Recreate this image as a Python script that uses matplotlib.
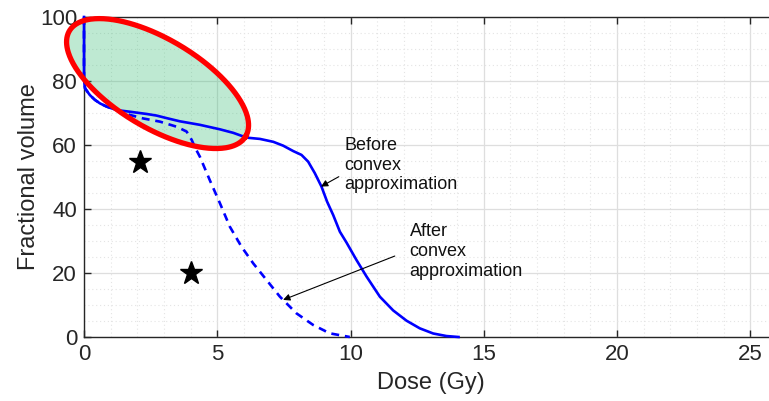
import numpy as np
import matplotlib
matplotlib.use("Agg")
import matplotlib.pyplot as plt
from matplotlib.ticker import MultipleLocator

plt.rcParams['font.family'] = ['Liberation Sans', 'DejaVu Sans']

# ---- data ----
dose_before = [0, 0, 0.04, 0.22, 0.41, 0.6, 0.85, 1.23, 1.72, 2.35, 2.72, 3.1, 3.6, 4.35,
               5.1, 5.6, 6.1, 6.6, 7.1, 7.47, 7.85, 8.16, 8.41, 8.66, 8.91, 9.12, 9.35,
               9.6, 9.85, 10.22, 10.6, 11.1, 11.6, 12.1, 12.6, 13.1, 13.6, 14.05]
vol_before = [100, 80.3, 77.7, 75.6, 74.1, 73, 72, 70.9, 70.4, 69.7, 69.2, 68.4, 67.4,
              66.3, 64.9, 63.8, 62.3, 61.9, 61.0, 59.8, 58.1, 56.9, 54.8, 51.2, 47.0,
              42.3, 38.1, 32.9, 29.5, 24.1, 18.9, 12.6, 8.3, 5.1, 2.7, 1.1, 0.3, 0]

dose_after = [0, 0, 0.04, 0.22, 0.41, 0.6, 0.85, 1.23, 1.72, 2.22, 2.85, 3.48, 3.85,
              4.04, 4.16, 4.35, 4.72, 5.1, 5.47, 5.91, 6.35, 6.85, 7.35, 7.97, 8.6,
              9.22, 9.97]
vol_after = [100, 80.3, 77.7, 75.6, 74.1, 73, 72, 70.9, 69.4, 68.3, 67.3, 65.7, 64.2,
             61.6, 59.3, 56.3, 49, 41.8, 34.5, 28.2, 23, 17.8, 12.6, 7.4, 3.75, 1.15, 0]

star_dose = [2.1, 4.0]
star_vol = [54.7, 20]

x_ticks = [0, 5, 10, 15, 20, 25]
y_ticks = [0, 20, 40, 60, 80, 100]

before_text = 'Before\nconvex\napproximation'
after_text = 'After\nconvex\napproximation'

# ellipse (center in data units, semi-axes in pixels, tilt in degrees)
ell_cx, ell_cy = 2.76, 79.2
ell_a_px, ell_b_px, ell_tilt = 102.7, 44.2, 30.9

# ---- figure ----
W, H = 769, 401
fig = plt.figure(figsize=(W / 100, H / 100), dpi=100)
left_px, right_px, top_px, bot_px = 84, 777, 17, 337
ax = fig.add_axes([left_px / W, (H - bot_px) / H, (right_px - left_px) / W,
                   (bot_px - top_px) / H])
ax.set_xlim(0, 26)
ax.set_ylim(0, 100)
ax.set_xticks(x_ticks)
ax.set_yticks(y_ticks)
ax.xaxis.set_minor_locator(MultipleLocator(1))
ax.yaxis.set_minor_locator(MultipleLocator(5))
ax.grid(True, which='major', color='#dedede', lw=0.9, zorder=0)
ax.grid(True, which='minor', color='#e4e4e4', lw=0.8, ls=(0, (1, 2.5)), zorder=0)
ax.set_axisbelow(True)
ax.tick_params(which='major', direction='in', length=5, width=1.0, top=True,
               right=True, labelsize=16, colors='#262626', pad=5)
ax.tick_params(which='minor', length=0)
for s in ax.spines.values():
    s.set_color('#262626')
    s.set_linewidth(1.0)
ax.set_xlabel('Dose (Gy)', fontsize=17, color='#262626', labelpad=5)
ax.set_ylabel('Fractional volume', fontsize=17, color='#262626', labelpad=0)

# ellipse: parametric in pixel space converted to data units
sx = (right_px - left_px) / 26.0
sy = (bot_px - top_px) / 100.0
t = np.linspace(0, 2 * np.pi, 400)
th = np.deg2rad(ell_tilt)
px = ell_a_px * np.cos(t) * np.cos(th) - ell_b_px * np.sin(t) * np.sin(th)
py = ell_a_px * np.cos(t) * np.sin(th) + ell_b_px * np.sin(t) * np.cos(th)
ex = ell_cx + px / sx
ey = ell_cy - py / sy
ax.fill(ex, ey, color=(41 / 255, 185 / 255, 108 / 255), alpha=0.3, lw=0,
        zorder=1.5, clip_on=False)

ax.plot(dose_before, vol_before, color='#0000ff', lw=1.9, zorder=3, clip_on=False,
        solid_joinstyle='round')
ax.plot(dose_after, vol_after, color='#0000ff', lw=1.9, ls=(0, (3, 2.2)), zorder=3,
        clip_on=False)

ax.plot(ex, ey, color='#ff0000', lw=3.8, zorder=4, clip_on=False)

ax.plot(star_dose, star_vol, ls='none', marker='*', ms=17, color='black', zorder=5)

ax.text(9.78, 62.6, before_text, fontsize=13, ha='left', va='top',
        linespacing=1.22, color='#111111', zorder=6)
ax.text(12.22, 35.6, after_text, fontsize=13, ha='left', va='top',
        linespacing=1.22, color='#111111', zorder=6)

arrow = dict(arrowstyle='-|>', lw=0.8, color='black', mutation_scale=10,
             shrinkA=0, shrinkB=0)
ax.annotate('', xy=(8.89, 47.0), xytext=(9.56, 50.1), arrowprops=arrow, zorder=6)
ax.annotate('', xy=(7.47, 11.6), xytext=(11.66, 25.3), arrowprops=arrow, zorder=6)

fig.savefig('out.png', dpi=100)
